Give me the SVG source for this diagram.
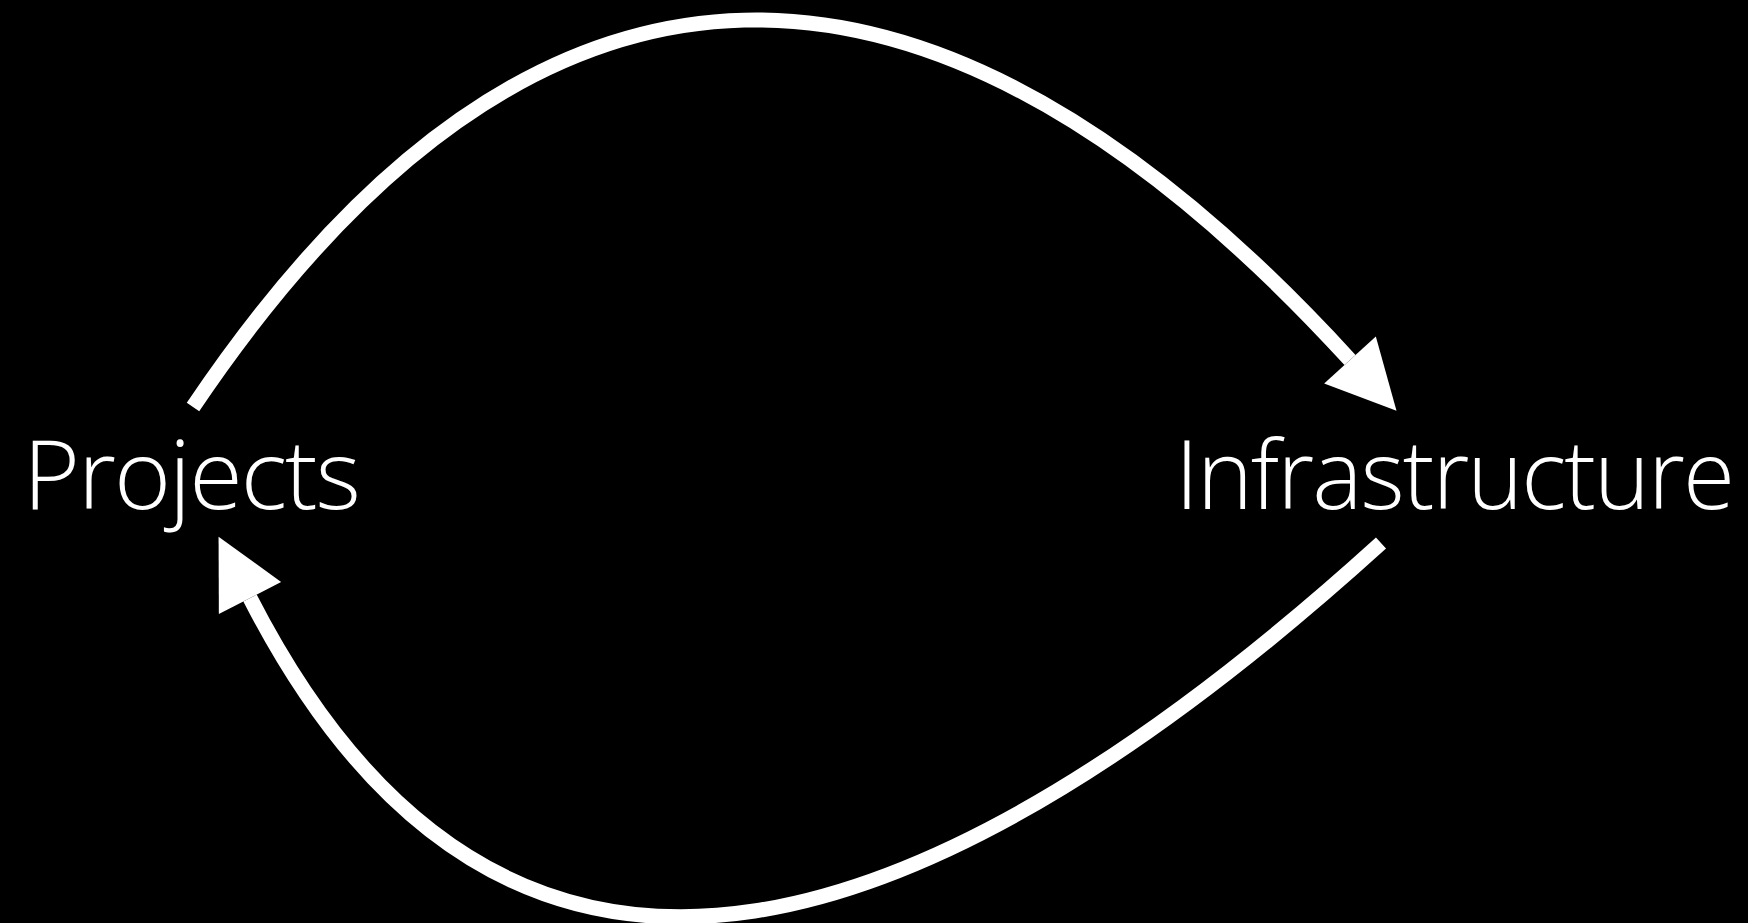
<svg xmlns="http://www.w3.org/2000/svg" width="1748" height="923" viewBox="0 0 1748 923">
  <style>
    .label { font-family: "Open Sans", "Liberation Sans", Arial, sans-serif; font-weight: 300; font-size: 96px; fill: #ffffff; letter-spacing: -2px; }
    .conn { fill: none; stroke: #ffffff; stroke-width: 15; stroke-linecap: butt; }
  </style>
  <defs>
    <marker id="head" markerUnits="userSpaceOnUse" markerWidth="70" markerHeight="70" refX="0" refY="32" orient="auto" viewBox="0 0 64 64" overflow="visible">
      <path d="M0,0 L63,32 L0,64 Z" fill="#ffffff"/>
    </marker>
  </defs>
  <rect x="0" y="0" width="1748" height="923" fill="#000000"/>
  <g id="connectors">
    <path class="conn" d="M193,407 C538,-105 932,-97 1350,360" marker-end="url(#head)"/>
    <path class="conn" d="M1381,543 C952,932 516,1117 250,598" marker-end="url(#head)"/>
  </g>
  <g id="node-projects">
    <text class="label" x="23" y="509" textLength="336" lengthAdjust="spacingAndGlyphs">Projects</text>
  </g>
  <g id="node-infrastructure">
    <text class="label" x="1175" y="509" textLength="558" lengthAdjust="spacingAndGlyphs">Infrastructure</text>
  </g>
</svg>
